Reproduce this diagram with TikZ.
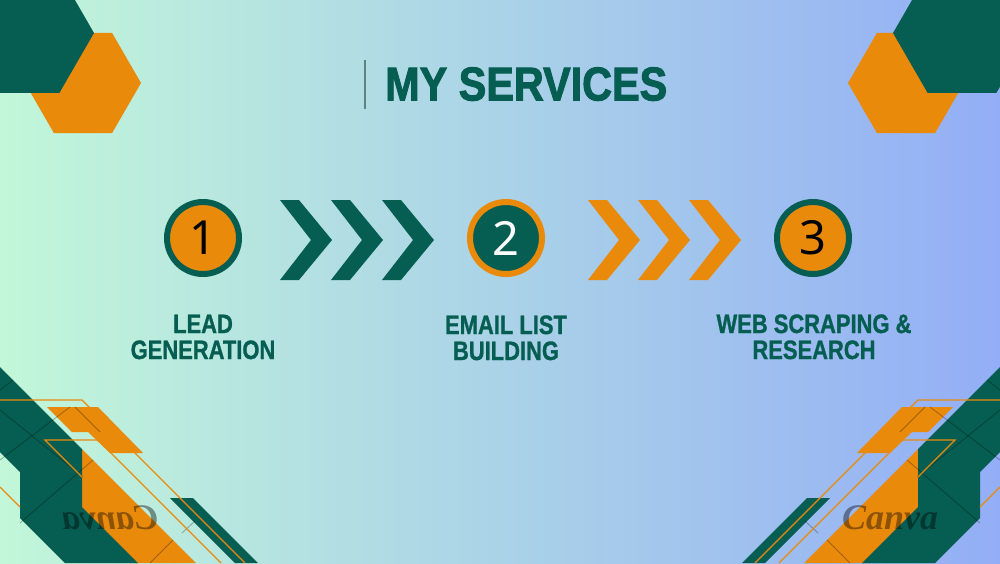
\documentclass[tikz,border=0pt]{standalone}
\usepackage{fontspec}
\usepackage{graphicx}
\setmainfont{Liberation Sans}
\newfontfamily\numfont{Noto Sans}
\newfontfamily\wmfont{Liberation Serif}
\newfontfamily\titlefont[FakeBold=2.2]{Liberation Sans}
\newfontfamily\labelfont[FakeBold=1.2]{Liberation Sans}
\definecolor{dgreen}{HTML}{065E52}
\definecolor{orng}{HTML}{EA8A0B}
\definecolor{bgl}{HTML}{C2F7D9}
\definecolor{bgm}{HTML}{AEDCE6}
\definecolor{bgr}{HTML}{93AEF6}
\definecolor{rulec}{HTML}{5E8480}
\tikzset{
  lbl/.style={text=dgreen, font=\labelfont\fontsize{25.8}{27}\selectfont\bfseries, inner sep=0pt, anchor=base},
  stepcircle/.style={circle, line width=6pt, minimum size=72pt, inner sep=0pt, font=\numfont\fontsize{47}{49}\selectfont},
  thinline/.style={orng, line width=1.2pt},
  gridline/.style={black, opacity=0.3, line width=0.8pt},
  wm/.style={font=\wmfont\fontsize{36}{38}\selectfont\bfseries\itshape, text=black, text opacity=0.4, inner sep=0pt}
}
\newcommand{\cornerdeco}{%
  \fill[orng] (82,449) -- (196,563) -- (130,563) -- (82,515) -- cycle;
  \fill[dgreen] (0,367) -- (82,449) -- (82,507) -- (138,563) -- (65,563) -- (20,518) -- (20,472) -- (0,452) -- cycle;
  \fill[orng] (47,407) -- (98,407) -- (143,453) -- (110,453) -- (88,432) -- (72,432) -- cycle;
  \fill[dgreen] (170,498) -- (193,498) -- (258,563) -- (235,563) -- cycle;
  \draw[gridline] (0,390) -- (13,380);
  \draw[gridline] (0,410) -- (83,477);
  \draw[gridline] (0,460) -- (70,407);
  \draw[gridline] (20,523) -- (93,460);
  \draw[gridline] (75,407) -- (100,432);
  \draw[gridline] (150,563) -- (173,540);
  \draw[gridline] (195,521) -- (182,533);
  \draw[thinline] (0,400) -- (82,400) -- (245,563);
  \draw[thinline] (82,477) -- (45,440) -- (98,440) -- (221,563);
  \draw[thinline] (0,487) -- (20,507);
}
\begin{document}
\begin{tikzpicture}[x=1pt,y=-1pt]
\useasboundingbox (0,0) rectangle (1000,563);
\clip (0,0) rectangle (1000,563);
% background
\shade[left color=bgl, middle color=bgm, right color=bgr] (0,0) rectangle (1000,563);
% top hexagons
\fill[orng] (83,83) +(0:58) -- +(60:58) -- +(120:58) -- +(180:58) -- +(240:58) -- +(300:58) -- cycle;
\fill[dgreen] (25,33) +(0:69) -- +(60:69) -- +(120:69) -- +(180:69) -- +(240:69) -- +(300:69) -- cycle;
\fill[orng] (906,83) +(0:58) -- +(60:58) -- +(120:58) -- +(180:58) -- +(240:58) -- +(300:58) -- cycle;
\fill[dgreen] (962,33) +(0:69) -- +(60:69) -- +(120:69) -- +(180:69) -- +(240:69) -- +(300:69) -- cycle;
% bottom corner decorations
\begin{scope}
\cornerdeco
\end{scope}
\begin{scope}[xshift=1000pt, xscale=-1]
\cornerdeco
\end{scope}
\node[wm, xscale=-1] (wmL) at (110,518) {Canva};
\node[wm] (wmR) at (890,518) {Canva};
% title
\coordinate (ruletop) at (365,60);
\coordinate (rulebot) at (365,109);
\draw[rulec, line width=1.5pt] (ruletop) -- (rulebot);
\node[anchor=south west, inner sep=0pt, text=dgreen] (title) at (385,101)
  {\resizebox{282pt}{33pt}{\titlefont\bfseries MY SERVICES}};
% circles
\node[stepcircle, draw=dgreen, fill=orng, text=black] (c1) at (203,238) {1};
\node[stepcircle, draw=orng, fill=dgreen, text=white] (c2) at (506,238) {2};
\node[stepcircle, draw=dgreen, fill=orng, text=black] (c3) at (813,238) {3};
% chevrons
\foreach \x in {280,331,382}{
  \fill[dgreen] (\x,200) -- (\x+19,200) -- (\x+52,240) -- (\x+19,280) -- (\x,280) -- (\x+31,240) -- cycle;
}
\foreach \x in {588,638,689}{
  \fill[orng] (\x,200) -- (\x+19,200) -- (\x+52,240) -- (\x+19,280) -- (\x,280) -- (\x+31,240) -- cycle;
}
% labels
\node[lbl] (l1a) at (203,333) {\scalebox{0.85}[1.03]{LEAD}};
\node[lbl] (l1b) at (203,359) {\scalebox{0.85}[1.03]{GENERATION}};
\node[lbl] (l2a) at (506,334) {\scalebox{0.85}[1.03]{EMAIL LIST}};
\node[lbl] (l2b) at (506,360) {\scalebox{0.85}[1.03]{BUILDING}};
\node[lbl] (l3a) at (814,333) {\scalebox{0.85}[1.03]{WEB SCRAPING \&}};
\node[lbl] (l3b) at (814,359) {\scalebox{0.85}[1.03]{RESEARCH}};
\end{tikzpicture}
\end{document}
